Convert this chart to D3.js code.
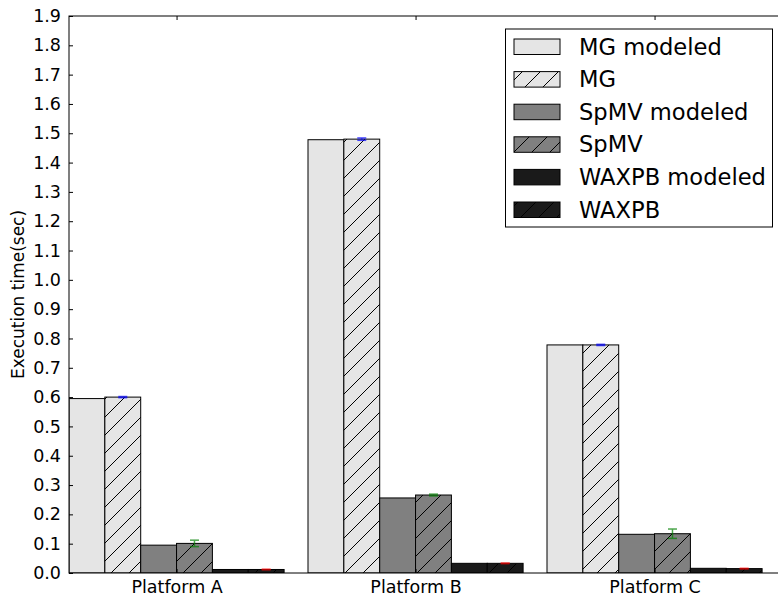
<!DOCTYPE html>
<html>
<head>
<meta charset="utf-8">
<script src="https://cdn.jsdelivr.net/npm/d3@7/dist/d3.min.js"></script>
<style>
  html, body { margin: 0; padding: 0; background: #fff; }
  svg { display: block; font-family: "DejaVu Sans", sans-serif; }
</style>
</head>
<body>
<svg id="chart" width="778" height="596"></svg>
<script>
// Execution time per platform: modeled vs. measured for three kernels
const platforms = ["Platform A", "Platform B", "Platform C"];
const mgModeled = [0.595, 1.478, 0.778];
const mgMeasured = [0.600, 1.480, 0.778];
const mgErr = [0.002, 0.004, 0.002];
const spmvModeled = [0.095, 0.256, 0.132];
const spmvMeasured = [0.101, 0.266, 0.134];
const spmvErr = [0.011, 0.003, 0.016];
const waxpbModeled = [0.012, 0.033, 0.016];
const waxpbMeasured = [0.012, 0.033, 0.015];
const waxpbErr = [0.001, 0.001, 0.001];
const yTicks = [0.0, 0.1, 0.2, 0.3, 0.4, 0.5, 0.6, 0.7, 0.8, 0.9, 1.0,
                1.1, 1.2, 1.3, 1.4, 1.5, 1.6, 1.7, 1.8, 1.9];
const seriesNames = ["MG modeled", "MG", "SpMV modeled", "SpMV", "WAXPB modeled", "WAXPB"];

const series = [
  { name: seriesNames[0], values: mgModeled, fill: "#e5e5e5", hatch: false },
  { name: seriesNames[1], values: mgMeasured, err: mgErr, fill: "#e5e5e5", hatch: true, errColor: "#0000ff" },
  { name: seriesNames[2], values: spmvModeled, fill: "#808080", hatch: false },
  { name: seriesNames[3], values: spmvMeasured, err: spmvErr, fill: "#808080", hatch: true, errColor: "#008000" },
  { name: seriesNames[4], values: waxpbModeled, fill: "#1a1a1a", hatch: false },
  { name: seriesNames[5], values: waxpbMeasured, err: waxpbErr, fill: "#1a1a1a", hatch: true, errColor: "#ff0000" }
];

const barW = 0.15;
const plotL = 69, plotT = 16, plotB = 573, plotR = 69 + 3 * 239;

const svg = d3.select("#chart");
const x = d3.scaleLinear().domain([0, 3]).range([plotL, plotR]);
const y = d3.scaleLinear().domain([0, 1.9]).range([plotB, plotT]);

const defs = svg.append("defs");
series.forEach((s, i) => {
  if (!s.hatch) return;
  const p = defs.append("pattern")
    .attr("id", "hatch" + i)
    .attr("patternUnits", "userSpaceOnUse")
    .attr("width", 18).attr("height", 18);
  p.append("rect").attr("width", 18).attr("height", 18).attr("fill", s.fill);
  p.append("path")
    .attr("d", "M0,18 L18,0 M-4.5,4.5 L4.5,-4.5 M13.5,22.5 L22.5,13.5")
    .attr("stroke", "#000").attr("stroke-width", 1);
});
defs.append("clipPath").attr("id", "plotClip")
  .append("rect").attr("x", plotL).attr("y", plotT)
  .attr("width", plotR - plotL).attr("height", plotB - plotT);

const plot = svg.append("g").attr("clip-path", "url(#plotClip)");

// bars
series.forEach((s, j) => {
  plot.append("g").selectAll("rect")
    .data(s.values)
    .join("rect")
    .attr("x", (d, i) => x(i + j * barW))
    .attr("y", d => y(d))
    .attr("width", x(barW) - x(0))
    .attr("height", d => y(0) - y(d))
    .attr("fill", s.hatch ? `url(#hatch${j})` : s.fill)
    .attr("stroke", "#000")
    .attr("stroke-width", 1);
});

// error bars on measured series
series.forEach((s, j) => {
  if (!s.err) return;
  const g = plot.append("g")
    .attr("stroke", s.errColor).attr("stroke-width", 1.5).attr("opacity", 0.7);
  s.values.forEach((v, i) => {
    const cx = x(i + j * barW + barW / 2);
    const y0 = y(v - s.err[i]), y1 = y(v + s.err[i]);
    g.append("line").attr("x1", cx).attr("x2", cx).attr("y1", y0).attr("y2", y1);
    g.append("line").attr("x1", cx - 4.5).attr("x2", cx + 4.5).attr("y1", y0).attr("y2", y0);
    g.append("line").attr("x1", cx - 4.5).attr("x2", cx + 4.5).attr("y1", y1).attr("y2", y1);
  });
});

// frame
svg.append("rect")
  .attr("x", plotL).attr("y", plotT)
  .attr("width", plotR - plotL).attr("height", plotB - plotT)
  .attr("fill", "none").attr("stroke", "#000").attr("stroke-width", 1);

// y axis (ticks pointing inward)
const yAxis = d3.axisLeft(y).tickValues(yTicks).tickFormat(d3.format(".1f"))
  .tickSizeInner(-4).tickSizeOuter(0).tickPadding(8);
const yG = svg.append("g").attr("transform", `translate(${plotL},0)`).call(yAxis);
yG.select(".domain").remove();
yG.selectAll("text").attr("font-size", 17.5).attr("fill", "#000")
  .attr("font-family", "DejaVu Sans");
yG.selectAll("line").attr("stroke", "#000");

// x axis: one tick per platform at the group centre
const centers = platforms.map((p, i) => i + 3 * barW);
const xAxis = d3.axisBottom(x).tickValues(centers)
  .tickFormat((d, i) => platforms[i]).tickSizeInner(-4).tickSizeOuter(0).tickPadding(8);
const xG = svg.append("g").attr("transform", `translate(0,${plotB})`).call(xAxis);
xG.select(".domain").remove();
xG.selectAll("text").attr("font-size", 17.5).attr("fill", "#000")
  .attr("font-family", "DejaVu Sans");
xG.selectAll("line").attr("stroke", "#000");

// top ticks
const xTop = d3.axisTop(x).tickValues(centers).tickFormat("")
  .tickSizeInner(-4).tickSizeOuter(0);
const xTG = svg.append("g").attr("transform", `translate(0,${plotT})`).call(xTop);
xTG.select(".domain").remove();
xTG.selectAll("line").attr("stroke", "#000");

// y label
svg.append("text")
  .attr("transform", `translate(24,${(plotT + plotB) / 2}) rotate(-90)`)
  .attr("text-anchor", "middle")
  .attr("font-size", 17)
  .attr("fill", "#000")
  .text("Execution time(sec)");

// legend
const lg = svg.append("g");
lg.append("rect")
  .attr("x", 505.5).attr("y", 29).attr("width", 267).attr("height", 198)
  .attr("fill", "#fff").attr("stroke", "#000").attr("stroke-width", 1);
series.forEach((s, j) => {
  const yy = 39 + j * 32.6;
  lg.append("rect")
    .attr("x", 514).attr("y", yy).attr("width", 46).attr("height", 15.5)
    .attr("fill", s.hatch ? `url(#hatch${j})` : s.fill)
    .attr("stroke", "#000").attr("stroke-width", 1);
  lg.append("text")
    .attr("x", 579).attr("y", yy + 15.5)
    .attr("font-size", 22.6).attr("fill", "#000")
    .text(s.name);
});
</script>
</body>
</html>
